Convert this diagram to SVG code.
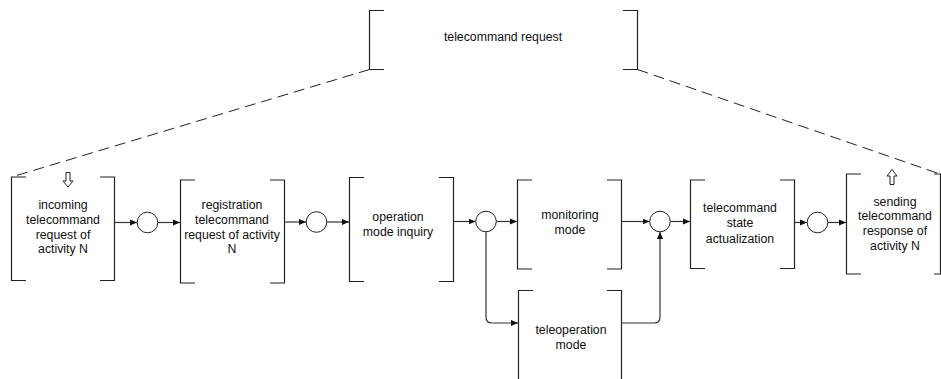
<svg xmlns="http://www.w3.org/2000/svg" width="941" height="379" viewBox="0 0 941 379">
<style>
.br{fill:none;stroke:#222;stroke-width:1.2}
.t{font-family:"Liberation Sans",Arial,sans-serif;font-size:12.3px;fill:#111;text-anchor:middle}
.c{fill:#fff;stroke:#222;stroke-width:1}
.cn{fill:none;stroke:#333;stroke-width:1.2}
.d{fill:none;stroke:#222;stroke-width:1;stroke-dasharray:11 6}
.ho{fill:#fff;stroke:#222;stroke-width:1}
</style>
<defs>
<marker id="ah" viewBox="0 0 8 8" refX="8" refY="4" markerWidth="7" markerHeight="7" markerUnits="userSpaceOnUse" orient="auto">
<path d="M0,0.5 L8,4 L0,7.5 Z" fill="#111"/>
</marker>
</defs>
<rect width="941" height="379" fill="#fff"/>
<g id="top">
<path class="br" d="M384,10.5 H369.5 V69.5 H384 M623,10.5 H637.5 V69.5 H623"/>
<text class="t" x="503" y="41">telecommand request</text>
</g>
<g id="dashes">
<path class="d" d="M369.5,69.5 L11.5,177"/>
<path class="d" d="M637.5,69.5 L940,174"/>
</g>
<g id="n1">
<path class="br" d="M26,177 H11.5 V280.5 H26 M100,177 H114.5 V280.5 H100"/>
<path class="ho" d="M66,172.5 H70 V181 H73 L68,187 L63,181 H66 Z"/>
<text class="t" x="63" y="209">incoming</text>
<text class="t" x="63" y="224">telecommand</text>
<text class="t" x="63" y="238.5">request of</text>
<text class="t" x="63" y="253">activity N</text>
</g>
<g id="n2">
<path class="br" d="M195,180 H180.5 V283 H195 M270,180 H284.5 V283 H270"/>
<text class="t" x="232" y="209">registration</text>
<text class="t" x="232" y="224">telecommand</text>
<text class="t" x="232" y="238.5">request of activity</text>
<text class="t" x="232" y="253">N</text>
</g>
<g id="n3">
<path class="br" d="M364,177.5 H349.5 V281.5 H364 M439,177.5 H453.5 V281.5 H439"/>
<text class="t" x="398" y="221">operation</text>
<text class="t" x="398" y="236">mode inquiry</text>
</g>
<g id="n4">
<path class="br" d="M532,180 H517.5 V269 H532 M607,180 H621.5 V269 H607"/>
<text class="t" x="570" y="219">monitoring</text>
<text class="t" x="570" y="234">mode</text>
</g>
<g id="n5">
<path class="br" d="M533,290.5 H518.5 V379 M607,290.5 H621.5 V379"/>
<text class="t" x="571" y="334">teleoperation</text>
<text class="t" x="571" y="349">mode</text>
</g>
<g id="n6">
<path class="br" d="M705,180 H690.5 V268.5 H705 M780,180 H794.5 V268.5 H780"/>
<text class="t" x="740" y="212">telecommand</text>
<text class="t" x="740" y="227">state</text>
<text class="t" x="740" y="242.5">actualization</text>
</g>
<g id="n7">
<path class="br" d="M861,174 H846.5 V274 H861 M934,174 H940.5 V274 H934"/>
<path class="ho" d="M890,184.5 H894 V176 H897 L892,169.5 L887,176 H890 Z"/>
<text class="t" x="895" y="205.5">sending</text>
<text class="t" x="895" y="220">telecommand</text>
<text class="t" x="895" y="235">response of</text>
<text class="t" x="895" y="250">activity N</text>
</g>
<g id="circles">
<circle id="j1" class="c" cx="147.5" cy="222.5" r="10.3"/>
<circle id="j2" class="c" cx="316.5" cy="222" r="10.3"/>
<circle id="j3" class="c" cx="486" cy="221.5" r="10.3"/>
<circle id="j4" class="c" cx="660" cy="221.5" r="10.3"/>
<circle id="j5" class="c" cx="817.5" cy="222.5" r="10.3"/>
</g>
<g id="connectors">
<path class="cn" d="M114.5,222.5 H137" marker-end="url(#ah)"/>
<path class="cn" d="M158,222.5 H180" marker-end="url(#ah)"/>
<path class="cn" d="M284.5,222 H306" marker-end="url(#ah)"/>
<path class="cn" d="M327,222 H349" marker-end="url(#ah)"/>
<path class="cn" d="M453.5,221.5 H475.5" marker-end="url(#ah)"/>
<path class="cn" d="M496.5,221.5 H517" marker-end="url(#ah)"/>
<path class="cn" d="M486,232 V317 Q486,323 492,323 H518" marker-end="url(#ah)"/>
<path class="cn" d="M621.5,221.5 H649.5" marker-end="url(#ah)"/>
<path class="cn" d="M621.5,323 H654 Q660,323 660,317 V232" marker-end="url(#ah)"/>
<path class="cn" d="M670.5,221.5 H690" marker-end="url(#ah)"/>
<path class="cn" d="M794.5,222.5 H807" marker-end="url(#ah)"/>
<path class="cn" d="M828,222.5 H846" marker-end="url(#ah)"/>
</g>
</svg>
